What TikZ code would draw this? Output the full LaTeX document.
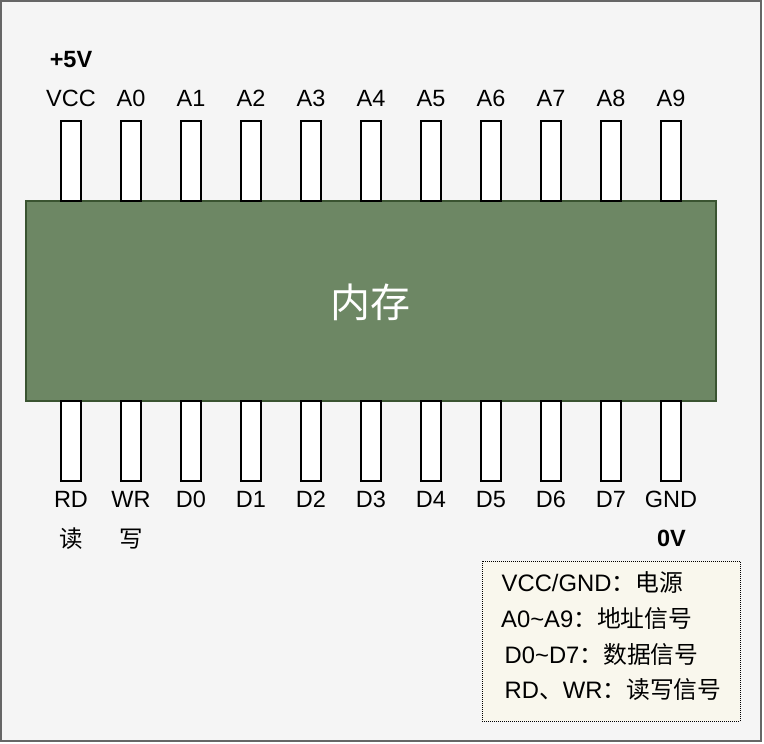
\documentclass[tikz,border=0pt]{standalone}
\usepackage{fontspec}
\setmainfont{Liberation Sans}
\newfontfamily\cjk{Noto Sans CJK SC}
\definecolor{framefill}{HTML}{F5F5F5}
\definecolor{framedraw}{HTML}{666666}
\definecolor{chipfill}{HTML}{6D8764}
\definecolor{chipdraw}{HTML}{3A5431}
\definecolor{legfill}{HTML}{F9F7ED}
\begin{document}
\begin{tikzpicture}[x=1pt,y=-1pt,
  frame/.style={draw=framedraw,fill=framefill,line width=2pt},
  chip/.style={draw=chipdraw,fill=chipfill,line width=1.5pt,minimum width=690pt,minimum height=200pt,inner sep=0pt,outer sep=0pt},
  pinbox/.style={draw=black,fill=white,line width=1.5pt,minimum width=20pt,minimum height=80pt,inner sep=0pt,outer sep=0pt},
  lbl/.style={anchor=base,inner sep=0pt,font=\fontsize{23.5}{28}\selectfont},
  blbl/.style={lbl,font=\fontsize{23.5}{28}\selectfont\bfseries},
  cjklbl/.style={lbl,font=\fontsize{23.5}{28}\selectfont\cjk},
  legbox/.style={draw=black,fill=legfill,line width=1pt,dash pattern=on 1pt off 1pt,minimum width=258pt,minimum height=160pt,inner sep=0pt},
  legtext/.style={anchor=base west,inner sep=0pt,font=\fontsize{23.8}{28}\selectfont}
]
\useasboundingbox (0,0) rectangle (764,744);
\draw[frame] (1,1) rectangle (761,741);
\node[chip] (mem) at (371,301) {};
\node[anchor=base,inner sep=0pt,text=white,font=\fontsize{40}{42}\selectfont\cjk] (memtxt) at (370,317) {内存};
\foreach \i/\lab in {0/VCC,1/A0,2/A1,3/A2,4/A3,5/A4,6/A5,7/A6,8/A7,9/A8,10/A9}{
  \node[pinbox] (tp\i) at (71+60*\i,161) {};
  \node[lbl] (tl\i) at (71+60*\i,106.7) {\lab};
}
\foreach \i/\lab in {0/RD,1/WR,2/D0,3/D1,4/D2,5/D3,6/D4,7/D5,8/D6,9/D7,10/GND}{
  \node[pinbox] (bp\i) at (71+60*\i,441) {};
  \node[lbl] (bl\i) at (71+60*\i,507) {\lab};
}
\node[blbl] (p5v) at (71,67.7) {+5V};
\node[blbl] (zerov) at (671.5,546.7) {0V};
\node[cjklbl] (rd) at (71,547.5) {读};
\node[cjklbl] (wr) at (131,547.5) {写};
\node[legbox] (leg) at (611,641) {};
\node[legtext] (l1) at (501.5,591.7) {VCC/GND{\cjk ：电源}};
\node[legtext] (l2) at (501,627.7) {A0\textasciitilde A9{\cjk ：地址信号}};
\node[legtext] (l3) at (504.5,663) {D0\textasciitilde D7{\cjk ：数据信号}};
\node[legtext] (l4) at (504.5,698) {RD{\cjk 、}WR{\cjk ：读写信号}};
\end{tikzpicture}
\end{document}
